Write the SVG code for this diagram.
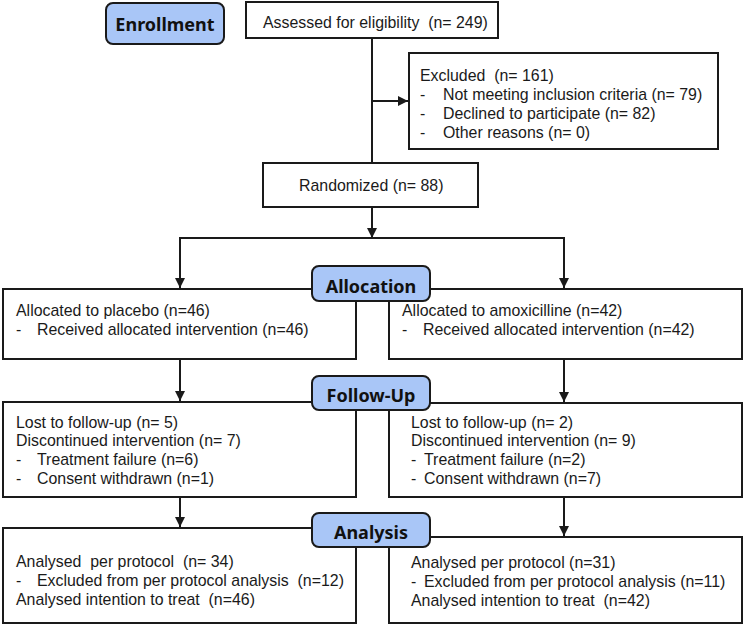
<svg xmlns="http://www.w3.org/2000/svg" width="749" height="626" viewBox="0 0 749 626">
<style>
.box{fill:#fff;stroke:#1a1a1a;stroke-width:2}
.lab{fill:#a9c6f7;stroke:#1a1a1a;stroke-width:2}
.t{font-family:"Liberation Sans",Arial,sans-serif;font-size:15.9px;fill:#1a1a1a}
.h{font-family:"Noto Sans","Open Sans",sans-serif;font-weight:bold;font-size:18px;fill:#111;text-anchor:middle}
.c{fill:none;stroke:#1a1a1a;stroke-width:2}
</style>
<defs>
<marker id="ah" viewBox="0 0 10 10" refX="10" refY="5" markerWidth="10" markerHeight="10" markerUnits="userSpaceOnUse" orient="auto">
<path d="M0,0 L10,5 L0,10 Z" fill="#1a1a1a"/>
</marker>
</defs>
<g id="connectors">
<line class="c" x1="372" y1="38" x2="372" y2="163"/>
<line class="c" x1="372" y1="101" x2="408" y2="101" marker-end="url(#ah)"/>
<line class="c" x1="372" y1="207" x2="372" y2="238" marker-end="url(#ah)"/>
<polyline class="c" points="180,288 180,238 564,238 564,288"/>
<line class="c" x1="180" y1="250" x2="180" y2="288" marker-end="url(#ah)"/>
<line class="c" x1="564" y1="250" x2="564" y2="288" marker-end="url(#ah)"/>
<line class="c" x1="180" y1="359" x2="180" y2="401" marker-end="url(#ah)"/>
<line class="c" x1="564" y1="359" x2="564" y2="402" marker-end="url(#ah)"/>
<line class="c" x1="180" y1="497" x2="180" y2="527" marker-end="url(#ah)"/>
<line class="c" x1="564" y1="497" x2="564" y2="536" marker-end="url(#ah)"/>
</g>
<g id="assessed">
<rect class="box" x="246" y="2" width="252" height="36"/>
<text class="t" x="263" y="28" xml:space="preserve">Assessed for eligibility  (n= 249)</text>
</g>
<g id="excluded">
<rect class="box" x="409" y="53" width="309" height="96"/>
<text class="t" x="420" y="81" xml:space="preserve">Excluded  (n= 161)</text>
<text class="t" x="420" y="100">-</text><text class="t" x="443" y="100">Not meeting inclusion criteria (n= 79)</text>
<text class="t" x="420" y="119">-</text><text class="t" x="443" y="119">Declined to participate (n= 82)</text>
<text class="t" x="420" y="138">-</text><text class="t" x="443" y="138">Other reasons (n= 0)</text>
</g>
<g id="randomized">
<rect class="box" x="263" y="163" width="215" height="44"/>
<text class="t" x="299" y="191">Randomized (n= 88)</text>
</g>
<g id="alloc-placebo">
<rect class="box" x="3" y="289" width="353" height="70"/>
<text class="t" x="16" y="316">Allocated to placebo (n=46)</text>
<text class="t" x="16" y="335">-</text><text class="t" x="37" y="335">Received allocated intervention (n=46)</text>
</g>
<g id="alloc-amox">
<rect class="box" x="389" y="289" width="353" height="70"/>
<text class="t" x="402" y="316">Allocated to amoxicilline (n=42)</text>
<text class="t" x="402" y="335">-</text><text class="t" x="423" y="335">Received allocated intervention (n=42)</text>
</g>
<g id="follow-placebo">
<rect class="box" x="3" y="402" width="353" height="95"/>
<text class="t" x="16" y="428">Lost to follow-up (n= 5)</text>
<text class="t" x="16" y="446">Discontinued intervention (n= 7)</text>
<text class="t" x="16" y="465">-</text><text class="t" x="37" y="465">Treatment failure (n=6)</text>
<text class="t" x="16" y="484">-</text><text class="t" x="37" y="484">Consent withdrawn (n=1)</text>
</g>
<g id="follow-amox">
<rect class="box" x="389" y="403" width="353" height="94"/>
<text class="t" x="411" y="428">Lost to follow-up (n= 2)</text>
<text class="t" x="411" y="446">Discontinued intervention (n= 9)</text>
<text class="t" x="411" y="465">-</text><text class="t" x="424" y="465">Treatment failure (n=2)</text>
<text class="t" x="411" y="484">-</text><text class="t" x="424" y="484">Consent withdrawn (n=7)</text>
</g>
<g id="analysis-placebo">
<rect class="box" x="3" y="528" width="353" height="95"/>
<text class="t" x="16" y="567" xml:space="preserve">Analysed  per protocol  (n= 34)</text>
<text class="t" x="16" y="586">-</text><text class="t" x="37" y="586" xml:space="preserve">Excluded from per protocol analysis  (n=12)</text>
<text class="t" x="16" y="605" xml:space="preserve">Analysed intention to treat  (n=46)</text>
</g>
<g id="analysis-amox">
<rect class="box" x="389" y="537" width="353" height="86"/>
<text class="t" x="411" y="568">Analysed per protocol (n=31)</text>
<text class="t" x="411" y="587">-</text><text class="t" x="424" y="587">Excluded from per protocol analysis (n=11)</text>
<text class="t" x="411" y="606" xml:space="preserve">Analysed intention to treat  (n=42)</text>
</g>
<g id="label-enrollment">
<rect class="lab" x="106" y="3" width="118" height="41" rx="7"/>
<text class="h" x="165" y="31">Enrollment</text>
</g>
<g id="label-allocation">
<rect class="lab" x="312" y="266" width="118" height="35" rx="7"/>
<text class="h" x="371" y="293">Allocation</text>
</g>
<g id="label-followup">
<rect class="lab" x="312" y="376" width="118" height="34" rx="7"/>
<text class="h" x="371" y="402">Follow-Up</text>
</g>
<g id="label-analysis">
<rect class="lab" x="312" y="513" width="118" height="34" rx="7"/>
<text class="h" x="371" y="539">Analysis</text>
</g>
</svg>
